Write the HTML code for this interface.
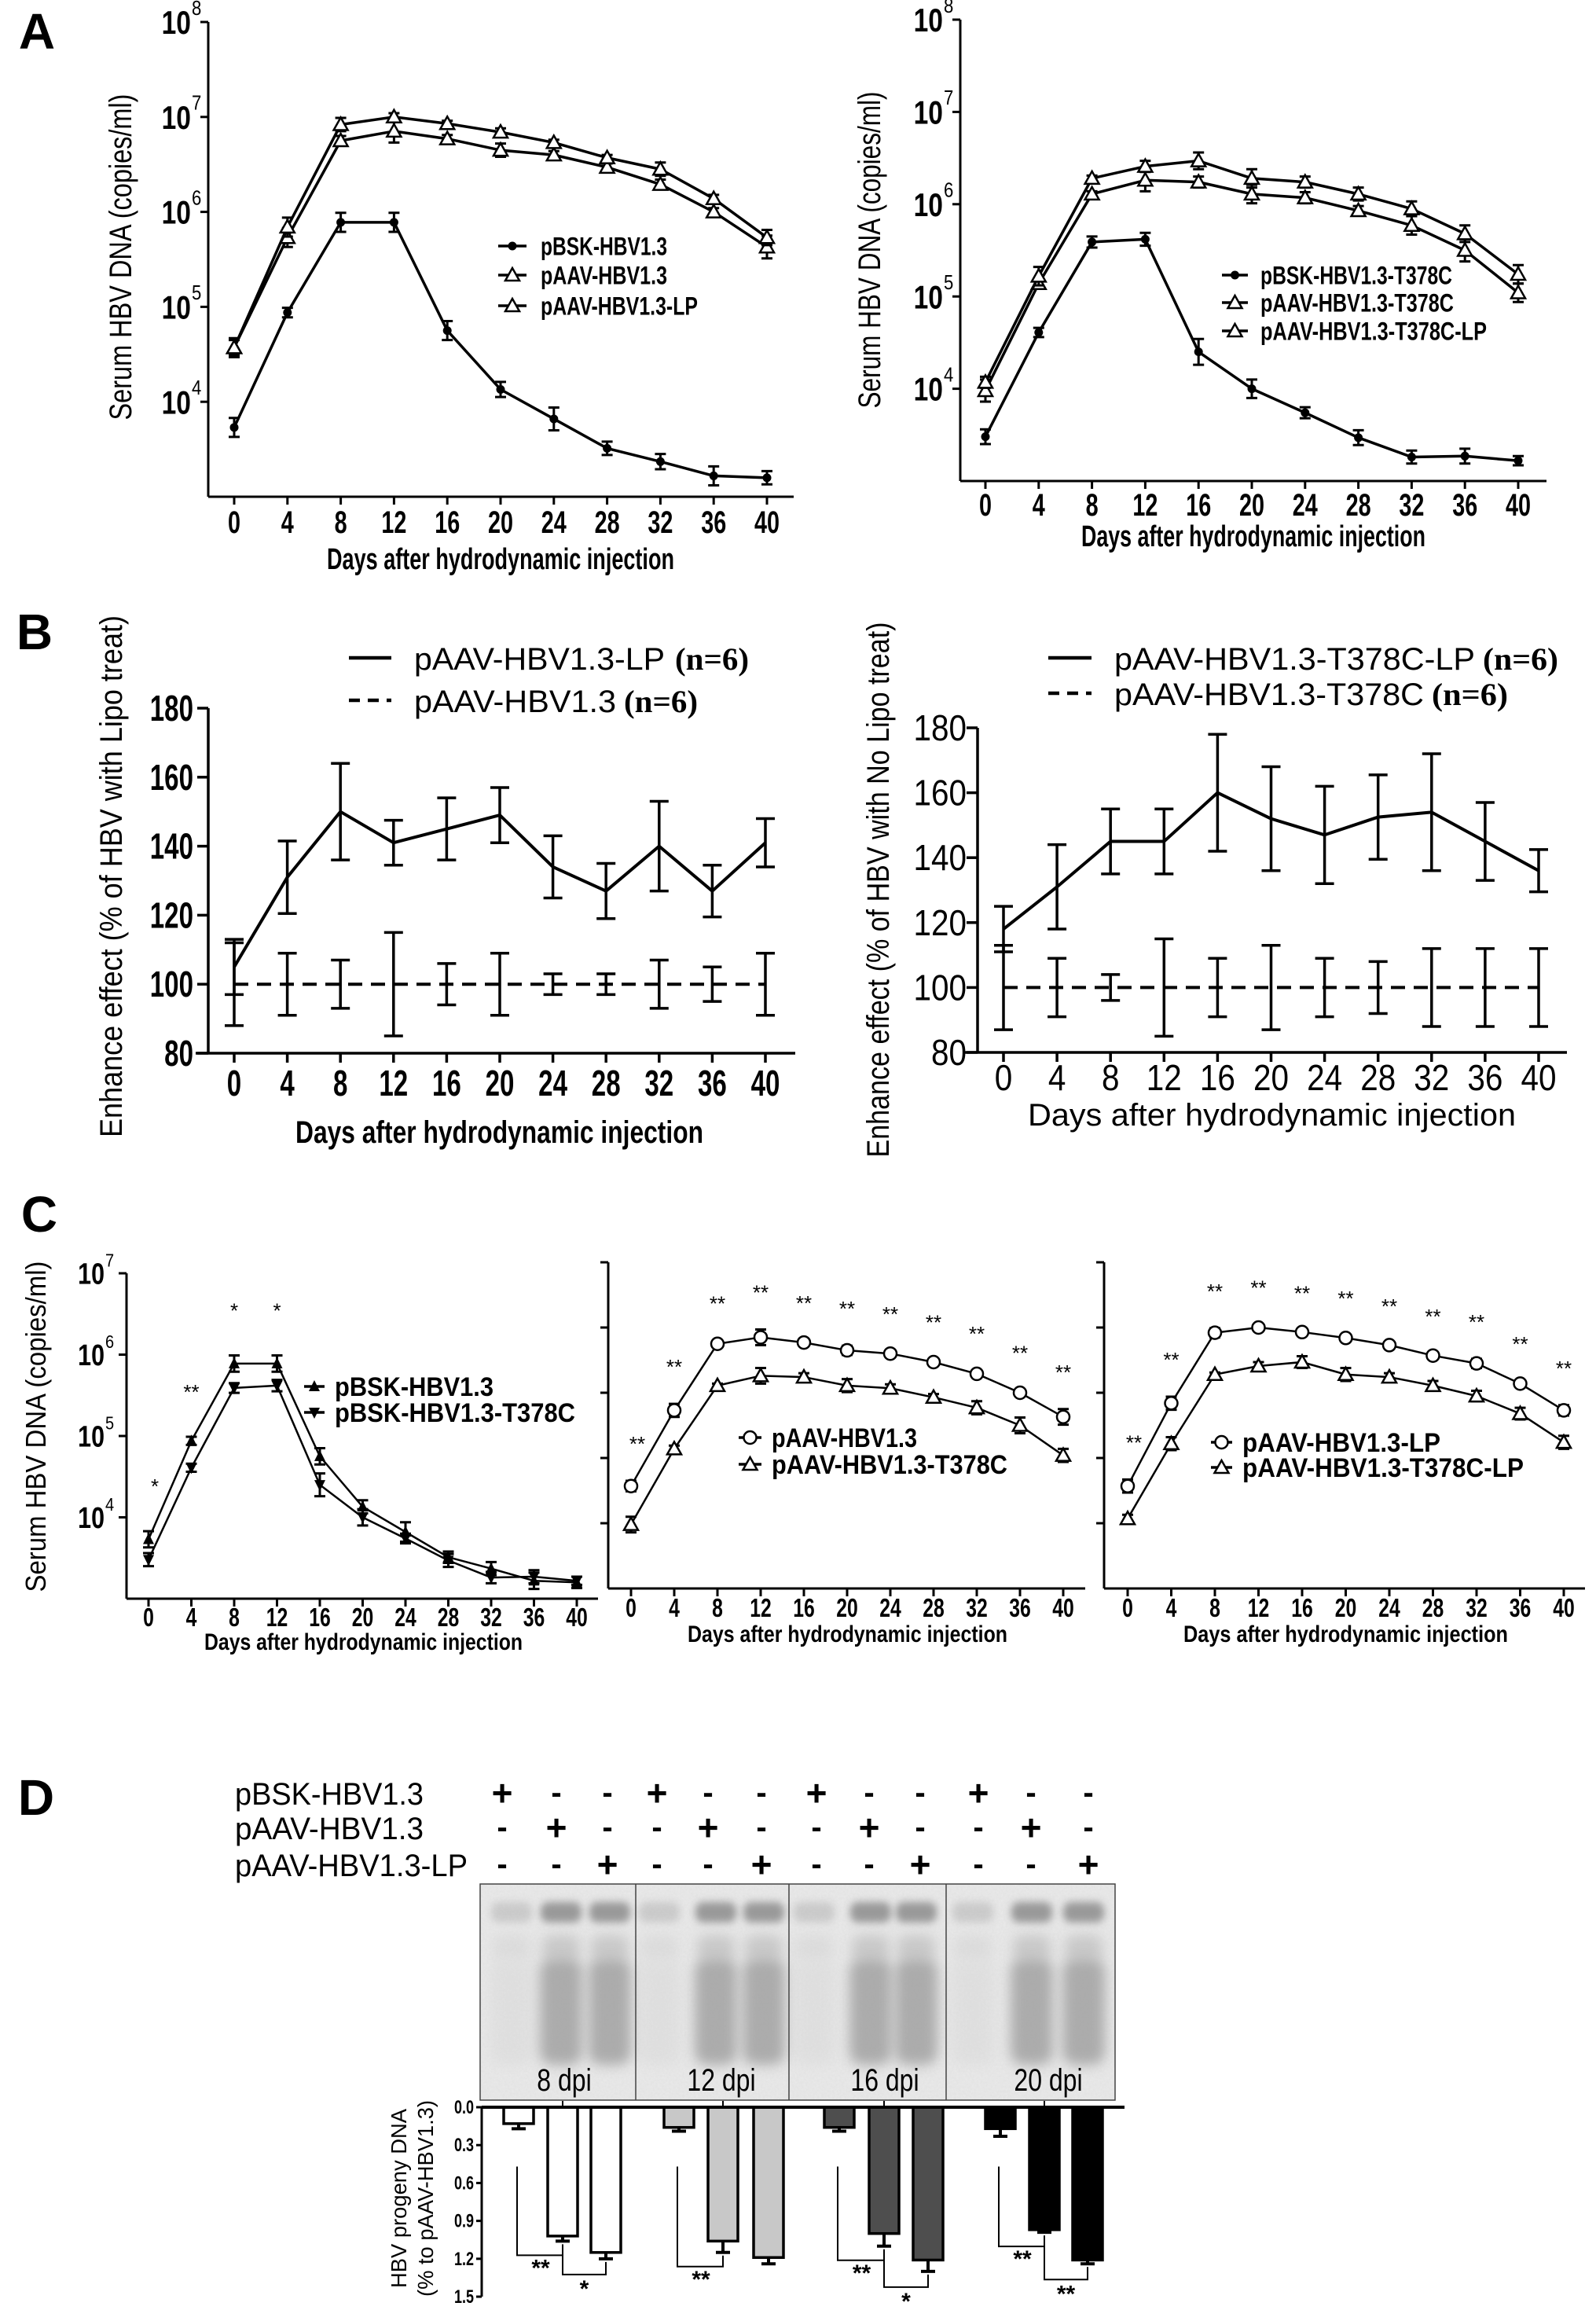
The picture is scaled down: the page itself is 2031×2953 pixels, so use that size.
<!DOCTYPE html>
<html><head><meta charset="utf-8">
<style>
html,body{margin:0;padding:0;background:#fff;}
svg{display:block;font-family:"Liberation Sans",Arial,sans-serif;}
</style></head>
<body>
<svg id="fig" width="2031" height="2953" viewBox="0 0 2031 2953">
<defs>
<filter id="blur6" x="-50%" y="-50%" width="200%" height="200%"><feGaussianBlur stdDeviation="8"/></filter>
<filter id="blur3" x="-50%" y="-50%" width="200%" height="200%"><feGaussianBlur stdDeviation="5"/></filter>
<filter id="grain" x="0" y="0" width="100%" height="100%"><feTurbulence type="fractalNoise" baseFrequency="0.35" numOctaves="2" seed="3" result="n"/><feColorMatrix in="n" type="matrix" values="0 0 0 0 0.5  0 0 0 0 0.5  0 0 0 0 0.5  0 0 0 0.35 0"/></filter>
</defs>
<rect x="0" y="0" width="2031" height="2953" fill="#fff"/>
<g id="root"></g>
</svg>
<script>
const NS='http://www.w3.org/2000/svg';
const root=document.getElementById('root');

// ---------- DATA ----------
const days=[0,4,8,12,16,20,24,28,32,36,40];
// Panel A left (log10 copies/ml)
const aL_pBSK=[3.73,4.94,5.89,5.89,4.75,4.13,3.82,3.51,3.37,3.22,3.20];
const aL_pBSK_err=[0.10,0.05,0.10,0.10,0.10,0.08,0.12,0.07,0.08,0.10,0.07];
const aL_pAAV=[4.57,5.73,6.75,6.85,6.77,6.65,6.60,6.47,6.29,6.00,5.63];
const aL_pAAV_err=[0.08,0.10,0.05,0.12,0.04,0.07,0.04,0.04,0.05,0.04,0.12];
const aL_LP=[4.57,5.84,6.92,7.00,6.93,6.84,6.73,6.57,6.45,6.14,5.73];
const aL_LP_err=[0.10,0.10,0.07,0.04,0.03,0.04,0.03,0.03,0.07,0.04,0.08];
// Panel A right
const aR_pBSK=[3.48,4.61,5.59,5.62,4.40,4.00,3.74,3.47,3.26,3.27,3.22];
const aR_pBSK_err=[0.08,0.05,0.06,0.07,0.14,0.10,0.06,0.08,0.07,0.08,0.05];
const aR_pAAV=[3.98,5.14,6.11,6.26,6.24,6.11,6.07,5.93,5.77,5.50,5.04];
const aR_pAAV_err=[0.12,0.05,0.03,0.12,0.06,0.10,0.06,0.05,0.10,0.12,0.10];
const aR_LP=[4.07,5.22,6.28,6.41,6.47,6.28,6.24,6.11,5.95,5.68,5.24];
const aR_LP_err=[0.06,0.10,0.03,0.06,0.09,0.10,0.06,0.07,0.08,0.09,0.10];
// Panel B left (% enhance)
const bL_LP=[105,131,150,141,145,149,134,127,140,127,141];
const bL_LP_err=[8,10.5,14,6.5,9,8,9,8,13,7.5,7];
const bL_ctrl=[100,100,100,100,100,100,100,100,100,100,100];
const bL_ctrl_err=[12,9,7,15,6,9,3,3,7,5,9];
// Panel B right
const bR_LP=[118,131,145,145,160,152,147,152.5,154,145,136];
const bR_LP_err=[7,13,10,10,18,16,15,13,18,12,6.5];
const bR_ctrl=[100,100,100,100,100,100,100,100,100,100,100];
const bR_ctrl_err=[13,9,4,15,9,13,9,8,12,12,12];
// Panel C stars
const c1Stars=['*','**','*','*','','','','','','',''];
const c2Stars=['**','**','**','**','**','**','**','**','**','**','**'];
const c3Stars=['**','**','**','**','**','**','**','**','**','**','**'];
const yLogTicks=[4,5,6,7,8];
const bTicks=[80,100,120,140,160,180];
// Panel D
const dpiLabels=['8 dpi','12 dpi','16 dpi','20 dpi'];
const dBars=[[0.13,1.02,1.15],[0.16,1.06,1.19],[0.16,1.00,1.21],[0.17,0.97,1.21]];
const dErr=[[0.04,0.04,0.05],[0.03,0.09,0.05],[0.03,0.10,0.09],[0.06,0.02,0.03]];
const dTicks=[0.0,0.3,0.6,0.9,1.2,1.5];
const dSig=[['**','*'],['**',''],['**','*'],['**','**']];
const dRows=['pBSK-HBV1.3','pAAV-HBV1.3','pAAV-HBV1.3-LP'];

// ---------- HELPERS ----------
function el(tag,attrs,name,parent){
  const e=document.createElementNS(NS,tag);
  for(const k in attrs) e.setAttribute(k,attrs[k]);
  
  
  (parent||root).appendChild(e);
  return e;
}
function txt(x,y,s,o,name,parent){
  o=o||{};
  const a={'font-size':o.fs||30,'text-anchor':o.anchor||'middle',fill:'#000'};
  if(o.weight) a['font-weight']=o.weight;
  if(o.family) a['font-family']=o.family;
  if(o.len){a.textLength=o.len;a.lengthAdjust='spacingAndGlyphs';}
  let tr='translate('+x+','+y+')';
  if(o.rot) tr+=' rotate('+o.rot+')';
  if(o.sx) tr+=' scale('+o.sx+',1)';
  a.transform=tr; a.x=0; a.y=0;
  const t=el('text',a,name,parent);
  t.textContent=s;
  return t;
}
function marker(type,x,y,g,name){
  if(type==='dot') return el('circle',{cx:x,cy:y,r:5.5,fill:'#000'},name,g);
  if(type==='circ') return el('circle',{cx:x,cy:y,r:8,fill:'#fff',stroke:'#000','stroke-width':2.5},name,g);
  if(type==='tri') return el('polygon',{points:(x)+','+(y-9)+' '+(x-9)+','+(y+7)+' '+(x+9)+','+(y+7),fill:'#fff',stroke:'#000','stroke-width':2.5},name,g);
  if(type==='triF') return el('polygon',{points:(x)+','+(y-8)+' '+(x-7)+','+(y+6)+' '+(x+7)+','+(y+6),fill:'#000'},name,g);
  if(type==='triD') return el('polygon',{points:(x)+','+(y+8)+' '+(x-7)+','+(y-6)+' '+(x+7)+','+(y-6),fill:'#000'},name,g);
}
function drawSeries(g,X,Y,vals,errs,o,name){
  const sg=el('g',{},name,g);
  let d='';
  vals.forEach((v,i)=>{d+=(i?'L':'M')+X(days[i])+','+Y(v);});
  const p={d:d,fill:'none',stroke:'#000','stroke-width':o.lw||3,'stroke-linejoin':'round'};
  if(o.dash) p['stroke-dasharray']=o.dash;
  el('path',p,name+'-line',sg);
  vals.forEach((v,i)=>{
    const x=X(days[i]),y1=Y(v+errs[i]),y2=Y(v-errs[i]),c=o.cap||7;
    el('path',{d:'M'+x+','+y1+'V'+y2+'M'+(x-c)+','+y1+'H'+(x+c)+'M'+(x-c)+','+y2+'H'+(x+c),stroke:'#000','stroke-width':o.ew||3,fill:'none'},name+'-errorbar',sg);
  });
  if(o.marker) vals.forEach((v,i)=>marker(o.marker,X(days[i]),Y(v),sg,name+'-point'));
}
function xAxisDays(g,c,X,yBot){
  el('line',{x1:c.axisX,y1:yBot,x2:c.xEnd,y2:yBot,stroke:'#000','stroke-width':3},'x-axis',g);
  days.forEach(d=>{
    el('line',{x1:X(d),y1:yBot,x2:X(d),y2:yBot+10,stroke:'#000','stroke-width':3},'x-tick',g);
    txt(X(d),c.xlabY,String(d),{fs:c.xfs,sx:c.xsx,weight:'bold'},'x-tick-label',g);
  });
  txt((c.tx1+c.tx2)/2,c.titleY,'Days after hydrodynamic injection',{fs:c.tfs,len:c.tx2-c.tx1,weight:'bold'},'x-axis-title',g);
}

// ---------- LOG CHARTS ----------
function logChart(c){
  const g=el('g',{},c.name);
  const X=d=>c.x0+(d/40)*(c.x40-c.x0);
  const Y=v=>c.yTop+(c.topExp-v)*c.dec;
  const yBot=Y(c.botExp);
  el('line',{x1:c.axisX,y1:c.yTop,x2:c.axisX,y2:yBot,stroke:'#000','stroke-width':3},'y-axis',g);
  yLogTicks.forEach(e=>{
    if(e>c.topExp) return;
    el('line',{x1:c.axisX-10,y1:Y(e),x2:c.axisX,y2:Y(e),stroke:'#000','stroke-width':3},'y-tick',g);
    if(c.ylab){
      txt(c.axisX-c.lab10,Y(e)+c.yfs*0.36,'10',{fs:c.yfs,anchor:'end',sx:0.8,weight:'bold'},'y-tick-label',g);
      txt(c.axisX-c.lab10+1,Y(e)-c.yfs*0.22,String(e),{fs:c.yfs*0.62,anchor:'start',sx:0.85},'y-tick-exponent',g);
    }
  });
  xAxisDays(g,c,X,yBot);
  if(c.ytitle) txt(c.ytitle.x,c.ytitle.y,'Serum HBV DNA (copies/ml)',{fs:c.ytitle.fs,rot:-90,len:c.ytitle.len},'y-axis-title',g);
  c.series.forEach(s=>drawSeries(g,X,Y,s.vals,s.errs,{marker:s.marker,lw:c.lw,cap:7,ew:3},s.name));
  if(c.stars){
    c.stars.forEach((s,i)=>{
      if(!s) return;
      const top=Math.min(Y(c.series[0].vals[i]+c.series[0].errs[i]),Y(c.series[1].vals[i]+c.series[1].errs[i]));
      txt(X(days[i])+(i===0?8:0),top-c.starOff,s,{fs:26},'significance-star',g);
    });
  }
  c.legend.forEach(L=>{
    const lg=el('g',{},'legend-entry',g);
    el('line',{x1:L.x1,y1:L.y,x2:L.x2,y2:L.y,stroke:'#000','stroke-width':3.5},'legend-line',lg);
    marker(L.marker,(L.x1+L.x2)/2,L.y,lg,'legend-marker');
    txt(L.tx,L.y+L.fs*0.36,L.text,{fs:L.fs,anchor:'start',len:L.len,weight:'bold'},'legend-label',lg);
  });
}

// Panel letters
txt(47,62,'A',{fs:64,weight:'bold'},'panel-label-a');
txt(44,826,'B',{fs:64,weight:'bold'},'panel-label-b');
txt(50,1567,'C',{fs:64,weight:'bold'},'panel-label-c');
txt(46,2309,'D',{fs:64,weight:'bold'},'panel-label-d');

logChart({name:'chart-a-left',axisX:265,x0:298,x40:976,xEnd:1010,yTop:28,topExp:8,botExp:3,dec:120.8,
  ylab:true,lab10:22,yfs:42,xlabY:678,xfs:40,xsx:0.72,titleY:724,tfs:38,tx1:416,tx2:858,lw:3.5,
  ytitle:{x:167,y:327,fs:40,len:415},
  series:[{vals:aL_pBSK,errs:aL_pBSK_err,marker:'dot',name:'series-pbsk-hbv13'},
          {vals:aL_pAAV,errs:aL_pAAV_err,marker:'tri',name:'series-paav-hbv13'},
          {vals:aL_LP,errs:aL_LP_err,marker:'tri',name:'series-paav-hbv13-lp'}],
  legend:[{x1:634,x2:670,y:313,marker:'dot',tx:688,text:'pBSK-HBV1.3',fs:32,len:161},
          {x1:634,x2:670,y:350,marker:'tri',tx:688,text:'pAAV-HBV1.3',fs:32,len:161},
          {x1:634,x2:670,y:389,marker:'tri',tx:688,text:'pAAV-HBV1.3-LP',fs:32,len:200}]});

logChart({name:'chart-a-right',axisX:1222,x0:1254,x40:1932,xEnd:1968,yTop:25,topExp:8,botExp:3,dec:117.4,
  ylab:true,lab10:22,yfs:42,xlabY:656,xfs:40,xsx:0.72,titleY:695,tfs:38,tx1:1376,tx2:1814,lw:3.5,
  ytitle:{x:1120,y:318,fs:40,len:403},
  series:[{vals:aR_pBSK,errs:aR_pBSK_err,marker:'dot',name:'series-pbsk-t378c'},
          {vals:aR_pAAV,errs:aR_pAAV_err,marker:'tri',name:'series-paav-t378c'},
          {vals:aR_LP,errs:aR_LP_err,marker:'tri',name:'series-paav-t378c-lp'}],
  legend:[{x1:1555,x2:1588,y:350,marker:'dot',tx:1604,text:'pBSK-HBV1.3-T378C',fs:32,len:244},
          {x1:1555,x2:1588,y:385,marker:'tri',tx:1604,text:'pAAV-HBV1.3-T378C',fs:32,len:246},
          {x1:1555,x2:1588,y:421,marker:'tri',tx:1604,text:'pAAV-HBV1.3-T378C-LP',fs:32,len:288}]});

logChart({name:'chart-c-pbsk',axisX:161,x0:189,x40:734,xEnd:761,yTop:1620,topExp:7,botExp:3,dec:103.5,
  ylab:true,lab10:28,yfs:38,xlabY:2069,xfs:33,xsx:0.75,titleY:2099,tfs:30,tx1:260,tx2:665,lw:2.5,
  ytitle:{x:58,y:1815,fs:36,len:421},
  series:[{vals:aL_pBSK,errs:aL_pBSK_err,marker:'triF',name:'series-pbsk-hbv13'},
          {vals:aR_pBSK,errs:aR_pBSK_err,marker:'triD',name:'series-pbsk-t378c'}],
  stars:c1Stars,starOff:48,
  legend:[{x1:387,x2:413,y:1764,marker:'triF',tx:426,text:'pBSK-HBV1.3',fs:34,len:202},
          {x1:387,x2:413,y:1797,marker:'triD',tx:426,text:'pBSK-HBV1.3-T378C',fs:34,len:306}]});

logChart({name:'chart-c-paav',axisX:774,x0:803,x40:1353,xEnd:1381,yTop:1606,topExp:8,botExp:3,dec:83,
  ylab:false,xlabY:2057,xfs:33,xsx:0.75,titleY:2089,tfs:30,tx1:875,tx2:1282,lw:2.5,
  series:[{vals:aL_pAAV,errs:aL_pAAV_err,marker:'circ',name:'series-paav-hbv13'},
          {vals:aR_pAAV,errs:aR_pAAV_err,marker:'tri',name:'series-paav-t378c'}],
  stars:c2Stars,starOff:38,
  legend:[{x1:940,x2:969,y:1829,marker:'circ',tx:982,text:'pAAV-HBV1.3',fs:34,len:185},
          {x1:940,x2:969,y:1863,marker:'tri',tx:982,text:'pAAV-HBV1.3-T378C',fs:34,len:300}]});

logChart({name:'chart-c-paav-lp',axisX:1405,x0:1435,x40:1990,xEnd:2017,yTop:1606,topExp:8,botExp:3,dec:83,
  ylab:false,xlabY:2057,xfs:33,xsx:0.75,titleY:2089,tfs:30,tx1:1506,tx2:1919,lw:2.5,
  series:[{vals:aL_LP,errs:aL_LP_err,marker:'circ',name:'series-paav-hbv13-lp'},
          {vals:aR_LP,errs:aR_LP_err,marker:'tri',name:'series-paav-t378c-lp'}],
  stars:c3Stars,starOff:38,
  legend:[{x1:1541,x2:1568,y:1835,marker:'circ',tx:1581,text:'pAAV-HBV1.3-LP',fs:34,len:252},
          {x1:1541,x2:1568,y:1867,marker:'tri',tx:1581,text:'pAAV-HBV1.3-T378C-LP',fs:34,len:358}]});

// ---------- PANEL B ----------
function linChart(c){
  const g=el('g',{},c.name);
  const X=d=>c.x0+(d/40)*(c.x40-c.x0);
  const Y=v=>c.y80+(v-80)/100*(c.y180-c.y80);
  const yBot=Y(80);
  el('line',{x1:c.axisX,y1:Y(180),x2:c.axisX,y2:yBot,stroke:'#000','stroke-width':3.5},'y-axis',g);
  bTicks.forEach(v=>{
    el('line',{x1:c.axisX-14,y1:Y(v),x2:c.axisX,y2:Y(v),stroke:'#000','stroke-width':3.5},'y-tick',g);
    txt(c.ylabX,Y(v)+16,String(v),{fs:46,anchor:'end',sx:c.sx,weight:c.bold?'bold':null},'y-tick-label',g);
  });
  el('line',{x1:c.axisX-16,y1:yBot,x2:c.xEnd,y2:yBot,stroke:'#000','stroke-width':3.5},'x-axis',g);
  days.forEach(d=>{
    el('line',{x1:X(d),y1:yBot,x2:X(d),y2:yBot+12,stroke:'#000','stroke-width':3.5},'x-tick',g);
    txt(X(d),c.xlabY,String(d),{fs:46,sx:c.sx,weight:c.bold?'bold':null},'x-tick-label',g);
  });
  txt((c.tx1+c.tx2)/2,c.titleY,'Days after hydrodynamic injection',{fs:40,len:c.tx2-c.tx1,weight:c.bold?'bold':null},'x-axis-title',g);
  txt(c.yt.x,c.yt.y,c.yt.text,{fs:40,rot:-90,len:c.yt.len},'y-axis-title',g);
  drawSeries(g,X,Y,c.ctrl,c.ctrlErr,{lw:4,dash:'18,11',cap:12,ew:3.5},'series-control-dashed');
  drawSeries(g,X,Y,c.lp,c.lpErr,{lw:4,cap:12,ew:3.5},'series-lipo-solid');
  c.legend.forEach(L=>{
    const lg=el('g',{},'legend-entry',g);
    const p={x1:L.x1,y1:L.y,x2:L.x2,y2:L.y,stroke:'#000','stroke-width':4.5};
    if(L.dash) p['stroke-dasharray']='14,10';
    el('line',p,'legend-line',lg);
    txt(L.tx,L.y+15,L.text,{fs:40,anchor:'start',len:L.len},'legend-label',lg);
    txt(L.nx,L.y+15,'(n=6)',{fs:40,anchor:'start',len:L.nlen,family:'"Liberation Serif",serif',weight:'bold'},'legend-n',lg);
  });
}
linChart({name:'chart-b-left',axisX:265,x0:298,x40:974,xEnd:1012,y180:901,y80:1340,ylabX:246,sx:0.72,xlabY:1394,bold:true,
  titleY:1454,tx1:376,tx2:895,
  yt:{x:155,y:1115,text:'Enhance effect (% of HBV with Lipo treat)',len:664},
  lp:bL_LP,lpErr:bL_LP_err,ctrl:bL_ctrl,ctrlErr:bL_ctrl_err,
  legend:[{x1:444,x2:498,y:837,tx:527,text:'pAAV-HBV1.3-LP',len:319,nx:859,nlen:94},
          {x1:444,x2:498,y:891,dash:true,tx:527,text:'pAAV-HBV1.3',len:257,nx:794,nlen:94}]});
linChart({name:'chart-b-right',axisX:1244,x0:1277,x40:1958,xEnd:1994,y180:926,y80:1339,ylabX:1230,sx:0.88,xlabY:1387,bold:false,
  titleY:1432,tx1:1308,tx2:1929,
  yt:{x:1131,y:1132,text:'Enhance effect (% of HBV with No Lipo treat)',len:681},
  lp:bR_LP,lpErr:bR_LP_err,ctrl:bR_ctrl,ctrlErr:bR_ctrl_err,
  legend:[{x1:1334,x2:1389,y:837,tx:1418,text:'pAAV-HBV1.3-T378C-LP',len:459,nx:1887,nlen:96},
          {x1:1334,x2:1389,y:882,dash:true,tx:1418,text:'pAAV-HBV1.3-T378C',len:394,nx:1822,nlen:97}]});

// ---------- PANEL D ----------
(function(){
  const g=el('g',{},'panel-d');
  const colX=[639,708,773,836,901,969,1039,1106,1171,1245,1312,1385];
  const rowY=[2282,2326,2373];
  const rowLen=[240,240,296];
  dRows.forEach((r,ri)=>{
    txt(299,rowY[ri]+14,r,{fs:40,anchor:'start',len:rowLen[ri]},'treatment-row-label',g);
    colX.forEach((x,ci)=>{
      const plus=(ci%3)===ri;
      txt(x,rowY[ri]+(plus?15:12),plus?'+':'-',{fs:plus?46:40,weight:'bold'},'treatment-sign',g);
    });
  });
  // blot
  const bg=el('g',{},'southern-blot',g);
  el('rect',{x:611,y:2397,width:808,height:275,fill:'#eaeaea'},'blot-background',bg);
  el('rect',{x:611,y:2397,width:808,height:275,filter:'url(#grain)',opacity:0.5},'blot-grain',bg);
  const laneX=[651,714,776,839,911,972,1036,1108,1166,1238,1313,1379];
  laneX.forEach((x,i)=>{
    const faint=(i%3)===0;
    const lg=el('g',{opacity:faint?0.3:0.85},'blot-lane',bg);
    el('rect',{x:x-26,y:2420,width:52,height:26,rx:10,fill:'#8c8c8c',filter:'url(#blur3)'},'blot-band',lg);
    el('rect',{x:x-24,y:2462,width:48,height:34,rx:12,fill:'#c4c4c4',filter:'url(#blur6)'},'blot-upper-smear',lg);
    el('rect',{x:x-27,y:2492,width:54,height:135,rx:16,fill:faint?'#cfcfcf':'#a2a2a2',filter:'url(#blur6)'},'blot-smear',lg);
  });
  el('rect',{x:611,y:2397,width:808,height:275,fill:'none',stroke:'#444','stroke-width':1.5},'blot-border',bg);
  [809,1004,1204].forEach(x=>el('line',{x1:x,y1:2397,x2:x,y2:2672,stroke:'#444','stroke-width':1.5},'blot-divider',bg));
  const dpiX=[718,918,1126,1334];
  dpiLabels.forEach((s,i)=>txt(dpiX[i],2660,s,{fs:40,sx:0.8},'dpi-label',bg));
  // bar chart
  const y0=2681,k=160.7,axisX=613;
  const Y=v=>y0+v*k;
  const bc=el('g',{},'bar-chart',g);
  const fills=['#ffffff','#c8c8c8','#4e4e4e','#000000'];
  const barC=[[660,716,771],[864,920,978],[1068,1125,1181],[1273,1329,1384]];
  dBars.forEach((grp,gi)=>{
    grp.forEach((v,bi)=>{
      const x=barC[gi][bi];
      el('rect',{x:x-19,y:y0,width:38,height:v*k,fill:fills[gi],stroke:'#000','stroke-width':3.5},'bar-'+dpiLabels[gi].replace(' ','')+'-'+bi,bc);
      const ye=Y(v+dErr[gi][bi]);
      el('path',{d:'M'+x+','+Y(v)+'V'+ye+'M'+(x-9)+','+ye+'H'+(x+9),stroke:'#000','stroke-width':4},'bar-errorbar',bc);
    });
    const c=barC[gi];
    const e1=Y(grp[1]+dErr[gi][1]), e2=Y(grp[2]+dErr[gi][2]);
    const lv1=Math.max(e1,Y(grp[1]))+18, lv2=Math.max(e2,lv1)+20;
    el('path',{d:'M'+(c[0]-2)+','+Y(0.47)+'V'+lv1+'H'+c[1]+'V'+(e1+4),stroke:'#000','stroke-width':2,fill:'none'},'significance-bracket',bc);
    txt((c[0]+c[1])/2,lv1+26,dSig[gi][0],{fs:30,weight:'bold'},'significance-star',bc);
    if(dSig[gi][1]){
      el('path',{d:'M'+c[1]+','+lv1+'V'+lv2+'H'+c[2]+'V'+(e2+4),stroke:'#000','stroke-width':2,fill:'none'},'significance-bracket',bc);
      txt((c[1]+c[2])/2,lv2+28,dSig[gi][1],{fs:30,weight:'bold'},'significance-star',bc);
    }
    el('line',{x1:c[1],y1:y0,x2:c[1],y2:y0-8,stroke:'#000','stroke-width':2},'x-category-tick',bc);
  });
  el('line',{x1:axisX,y1:y0,x2:1431,y2:y0,stroke:'#000','stroke-width':4},'bar-x-axis',bc);
  el('line',{x1:axisX,y1:y0,x2:axisX,y2:Y(1.5),stroke:'#000','stroke-width':3},'bar-y-axis',bc);
  dTicks.forEach(v=>{
    el('line',{x1:axisX-7,y1:Y(v),x2:axisX,y2:Y(v),stroke:'#000','stroke-width':3},'bar-y-tick',bc);
    txt(603,Y(v)+8,v.toFixed(1),{fs:24,anchor:'end',weight:'bold',sx:0.75},'bar-y-tick-label',bc);
  });
  txt(517,2797,'HBV progeny DNA',{fs:28,rot:-90,len:228},'bar-y-axis-title',bc);
  txt(551,2797,'(% to pAAV-HBV1.3)',{fs:28,rot:-90,len:250},'bar-y-axis-subtitle',bc);
})();
</script>
</body></html>
